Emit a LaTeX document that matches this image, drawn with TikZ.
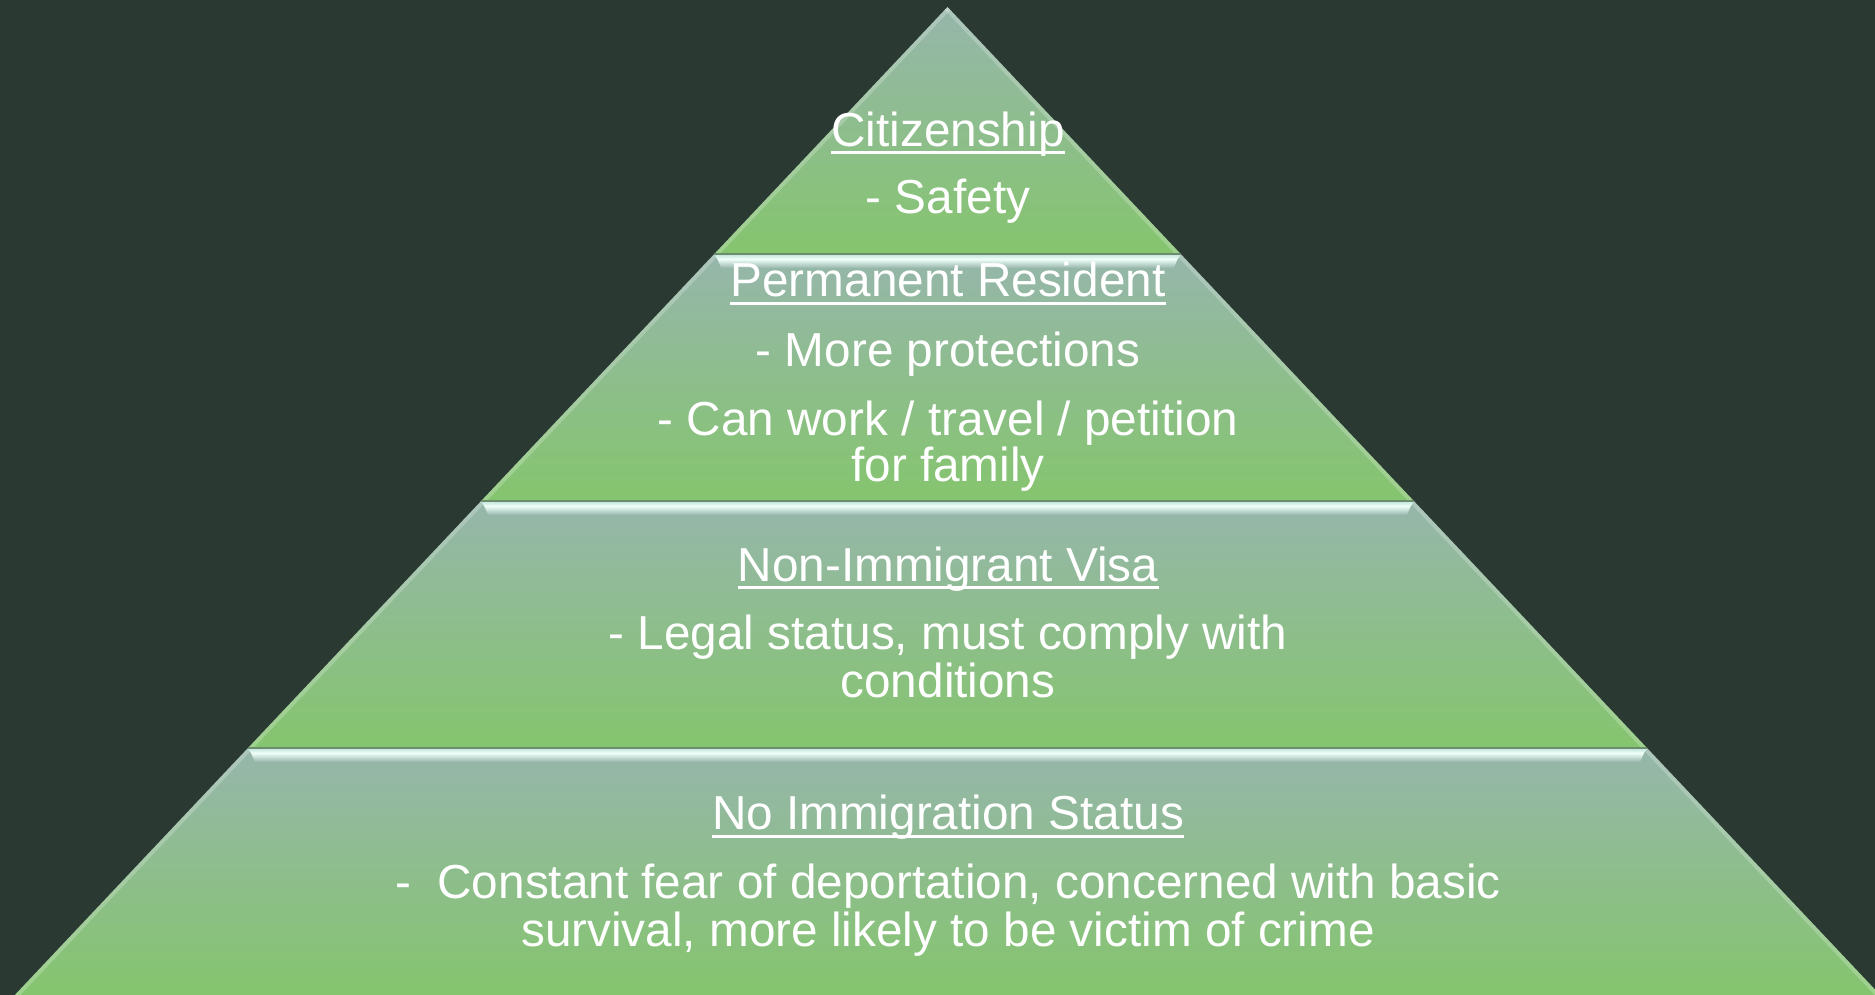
\documentclass[tikz,border=0pt]{standalone}
\usepackage{fontspec}
\setmainfont{Liberation Sans}
\definecolor{bgcol}{RGB}{42,57,50}
\definecolor{tiertop}{RGB}{150,182,171}
\definecolor{tierbot}{RGB}{133,197,110}
\definecolor{hlcol}{RGB}{240,255,250}
\definecolor{hlmid}{RGB}{200,232,224}
\definecolor{seam}{RGB}{108,140,110}
\begin{document}
\begin{tikzpicture}[x=1pt,y=-1pt,
  lbl/.style={text=white, font=\fontsize{47.7}{50}\selectfont, anchor=base, inner sep=0pt},
  uline/.style={white, line width=3pt}]
\useasboundingbox (0,0) rectangle (1875,995);
\fill[bgcol] (0,0) rectangle (1875,995);
% tiers
\foreach \yt/\yb/\n in {7/254/1,254/501/2,501/748/3,748/995/4} {
  \pgfmathsetmacro\wt{0.944*(\yt-7)}
  \pgfmathsetmacro\wb{0.944*(\yb-7)}
  \coordinate (tl\n) at (947.5-\wt,\yt);
  \coordinate (tr\n) at (947.5+\wt,\yt);
  \coordinate (bl\n) at (947.5-\wb,\yb);
  \coordinate (br\n) at (947.5+\wb,\yb);
  \shade[top color=tiertop, bottom color=tierbot] (tl\n) -- (tr\n) -- (br\n) -- (bl\n) -- cycle;
  \begin{scope}
    \clip (tl\n) -- (tr\n) -- (br\n) -- (bl\n) -- cycle;
    \draw[white, opacity=0.22, line width=8pt] (tl\n) -- (bl\n);
    \draw[white, opacity=0.22, line width=8pt] (tr\n) -- (br\n);
  \end{scope}
}
% highlight strips at the top of tiers 2-4
\foreach \n in {2,3,4} {
  \shade[top color=hlmid, bottom color=hlcol]
    ([yshift=-1pt]tl\n) -- ([yshift=-1pt]tr\n) -- ([xshift=-3pt,yshift=-5pt]tr\n) -- ([xshift=3pt,yshift=-5pt]tl\n) -- cycle;
  \shade[top color=hlcol, bottom color=tiertop]
    ([xshift=3pt,yshift=-5pt]tl\n) -- ([xshift=-3pt,yshift=-5pt]tr\n) -- ([xshift=-7pt,yshift=-14pt]tr\n) -- ([xshift=7pt,yshift=-14pt]tl\n) -- cycle;
  \draw[seam, line width=1.5pt] (tl\n) -- (tr\n);
}
% texts
\node[lbl] (h1) at (948,146.5) {Citizenship};
\node[lbl] (t1a) at (948,213.5) {- Safety};
\node[lbl] (h2) at (948,297) {Permanent Resident};
\node[lbl] (t2a) at (948,366.5) {- More protections};
\node[lbl] (t2b) at (948,435) {- Can work / travel / petition};
\node[lbl] (t2c) at (948,481) {for family};
\node[lbl] (h3) at (948,581) {Non-Immigrant Visa};
\node[lbl] (t3a) at (948,649.5) {- Legal status, must comply with};
\node[lbl] (t3b) at (948,697) {conditions};
\node[lbl] (h4) at (948,829.5) {No Immigration Status};
\node[lbl] (t4a) at (948,898) {-\ \ Constant fear of deportation, concerned with basic};
\node[lbl] (t4b) at (948,946) {survival, more likely to be victim of crime};
% underlines
\foreach \h in {h1,h2,h3,h4} {
  \draw[uline] ([yshift=-6.5pt]\h.base west) -- ([yshift=-6.5pt]\h.base east);
}
\end{tikzpicture}
\end{document}
